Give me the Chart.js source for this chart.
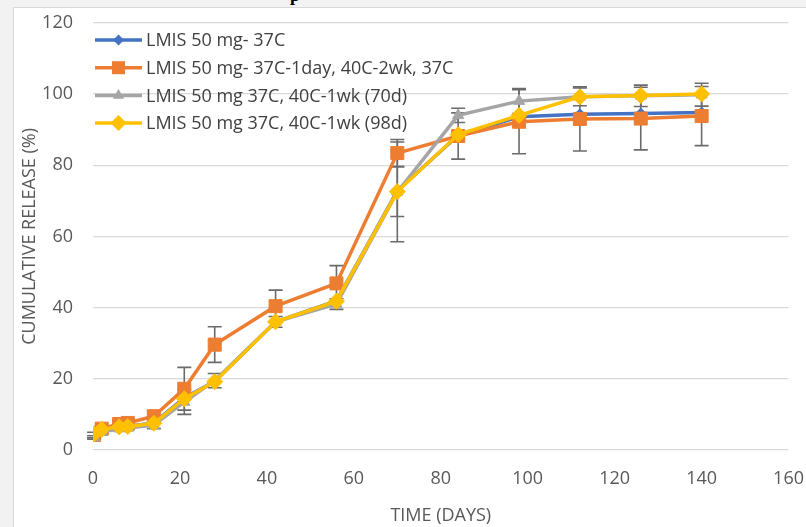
<!DOCTYPE html>
<html>
<head>
<meta charset="utf-8">
<script src="https://cdn.jsdelivr.net/npm/chart.js@4.4.0/dist/chart.umd.min.js"></script>
<style>
  html, body { margin: 0; padding: 0; background: #f2f2f2; overflow: hidden; }
  #panel { position: absolute; left: 13px; top: 7px; width: 800px; height: 530px; background: #fff; border: 1px solid #d9d9d9; }
  #cut { position: absolute; left: 290px; top: -15px; font: bold 18px "Liberation Serif", serif; color: #000; }
  canvas { position: absolute; left: 0; top: -8px; }
</style>
</head>
<body>
<div id="panel"></div>
<div id="cut">p</div>
<canvas id="lineChart" width="814" height="535"></canvas>
<script>
// dias de muestreo y % de liberacion acumulada
var dias = [0.25, 2, 6, 8, 14, 21, 28, 42, 56, 70, 84, 98, 112, 126, 140];
var nombres = [
    "LMIS 50 mg- 37C",
    "LMIS 50 mg- 37C-1day, 40C-2wk, 37C",
    "LMIS 50 mg 37C, 40C-1wk (70d)",
    "LMIS 50 mg 37C, 40C-1wk (98d)"
];
var azul = [4.4, 5.8, 6.6, 6.7, 7.6, 14.6, 19.3, 36.0, 41.9, 72.8, 88.4, 93.6, 94.3, 94.5, 94.8];
var naranja = [4.2, 6.0, 7.3, 7.6, 9.5, 17.2, 29.6, 40.4, 46.8, 83.4, 88.2, 92.2, 93.0, 93.1, 93.8];
var gris = [3.5, 5.0, 6.0, 6.2, 7.0, 13.5, 19.5, 36.0, 41.0, 72.5, 94.0, 98.0, 99.2, 99.5, 99.8];
var amarillo = [4.5, 5.8, 6.5, 6.6, 7.5, 14.4, 19.2, 36.0, 41.8, 72.6, 88.6, 94.0, 99.2, 99.6, 100.0];

// barras de error (+/-)
var errNaranja = [0.8, 0.8, 0.8, 0.8, 1.5, 6.0, 5.0, 4.5, 5.0, 3.8, 6.5, 9.0, 9.0, 8.8, 8.3];
var errGris = [0.5, 0.5, 0.5, 0.5, 1.0, 3.5, 2.0, 1.5, 1.5, 14.0, 2.0, 3.5, 2.5, 3.0, 3.2];
var errAmarillo = [0, 0, 0, 0, 0, 0, 0, 0, 0, 7.0, 0, 0, 0, 0, 0];

var xTicks = [0, 20, 40, 60, 80, 100, 120, 140, 160];
var yTicks = [0, 20, 40, 60, 80, 100, 120];

var colores = ["#4472C4", "#ED7D31", "#A5A5A5", "#FFC000"];
var formas = ["rectRot", "rect", "triangle", "rectRot"];
var radios = [5.5, 9.2, 6.5, 8];
var errores = [null, errNaranja, errGris, errAmarillo];

function puntos(valores) {
    return dias.map(function (d, i) { return { x: d, y: valores[i] }; });
}

var series = [azul, naranja, gris, amarillo];
var datasets = series.map(function (s, i) {
    return {
        label: nombres[i],
        data: puntos(s),
        borderColor: colores[i],
        backgroundColor: colores[i],
        pointBackgroundColor: colores[i],
        pointBorderColor: colores[i],
        pointStyle: formas[i],
        pointRadius: radios[i],
        pointBorderWidth: 1,
        borderWidth: 3.5,
        order: 4 - i
    };
});

// barras de error, debajo de las lineas
var errorBarsPlugin = {
    id: "errorBars",
    beforeDatasetsDraw: function (chart) {
        let ctx = chart.ctx;
        let xs = chart.scales.x, ys = chart.scales.y;
        ctx.save();
        ctx.strokeStyle = "#6b6b6b";
        ctx.lineWidth = 1.6;
        errores.forEach(function (errs, di) {
            if (!errs) return;
            series[di].forEach(function (v, i) {
                if (!errs[i]) return;
                let px = xs.getPixelForValue(dias[i]);
                let top = ys.getPixelForValue(v + errs[i]);
                let bot = ys.getPixelForValue(v - errs[i]);
                ctx.beginPath();
                ctx.moveTo(px, top); ctx.lineTo(px, bot);
                ctx.moveTo(px - 7, top); ctx.lineTo(px + 7, top);
                ctx.moveTo(px - 7, bot); ctx.lineTo(px + 7, bot);
                ctx.stroke();
            });
        });
        ctx.restore();
    }
};

function marcador(ctx, forma, x, y, r) {
    ctx.beginPath();
    if (forma === "rect") {
        let s = r * Math.SQRT1_2;
        ctx.rect(x - s, y - s, 2 * s, 2 * s);
    } else if (forma === "triangle") {
        ctx.moveTo(x, y - r);
        ctx.lineTo(x + r * 0.87, y + r * 0.5);
        ctx.lineTo(x - r * 0.87, y + r * 0.5);
        ctx.closePath();
    } else {
        ctx.moveTo(x - r, y); ctx.lineTo(x, y - r);
        ctx.lineTo(x + r, y); ctx.lineTo(x, y + r);
        ctx.closePath();
    }
    ctx.fill();
}

// leyenda dentro del area del grafico (canvas desplazado 8px hacia arriba)
var leyendaPlugin = {
    id: "leyenda",
    afterDraw: function (chart) {
        let ctx = chart.ctx;
        ctx.save();
        ctx.font = "18px 'Open Sans'";
        ctx.textBaseline = "middle";
        nombres.forEach(function (n, i) {
            let y = 48 + i * 27.7;
            ctx.strokeStyle = colores[i];
            ctx.fillStyle = colores[i];
            ctx.lineWidth = 3.5;
            ctx.beginPath();
            ctx.moveTo(95, y); ctx.lineTo(142, y);
            ctx.stroke();
            marcador(ctx, formas[i], 118.5, y, radios[i]);
            ctx.fillStyle = "#404040";
            ctx.fillText(n, 146, y + 1);
        });
        ctx.restore();
    }
};

var ctx = document.getElementById("lineChart").getContext("2d");
var lineChart = new Chart(ctx, {
    type: "line",
    data: { datasets: datasets },
    plugins: [errorBarsPlugin, leyendaPlugin],
    options: {
        responsive: false,
        animation: false,
        layout: { padding: { top: 10, right: 12, left: 0, bottom: 0 } },
        plugins: { legend: { display: false }, tooltip: { enabled: false } },
        scales: {
            x: {
                type: "linear",
                min: 0, max: 160,
                afterFit: function (s) { s.height = 77; },
                afterBuildTicks: function (s) { s.ticks = xTicks.map(function (v) { return { value: v }; }); },
                grid: { display: false },
                border: { display: false },
                ticks: { padding: 10, color: "#595959", font: { family: "Open Sans", size: 18 } },
                title: { display: true, text: "TIME (DAYS)", color: "#595959", font: { family: "Open Sans", size: 18 }, padding: { top: 4, bottom: 0 } }
            },
            y: {
                min: 0, max: 120,
                afterFit: function (s) { s.width = 93; },
                afterBuildTicks: function (s) { s.ticks = yTicks.map(function (v) { return { value: v }; }); },
                grid: { color: "#d9d9d9", lineWidth: 1.3, drawTicks: false },
                border: { display: false },
                ticks: { padding: 20, color: "#595959", font: { family: "Open Sans", size: 18 } },
                title: { display: true, text: "CUMULATIVE RELEASE (%)", color: "#595959", font: { family: "Open Sans", size: 18 }, padding: { top: 19, bottom: 0 } }
            }
        }
    }
});
</script>
</body>
</html>
